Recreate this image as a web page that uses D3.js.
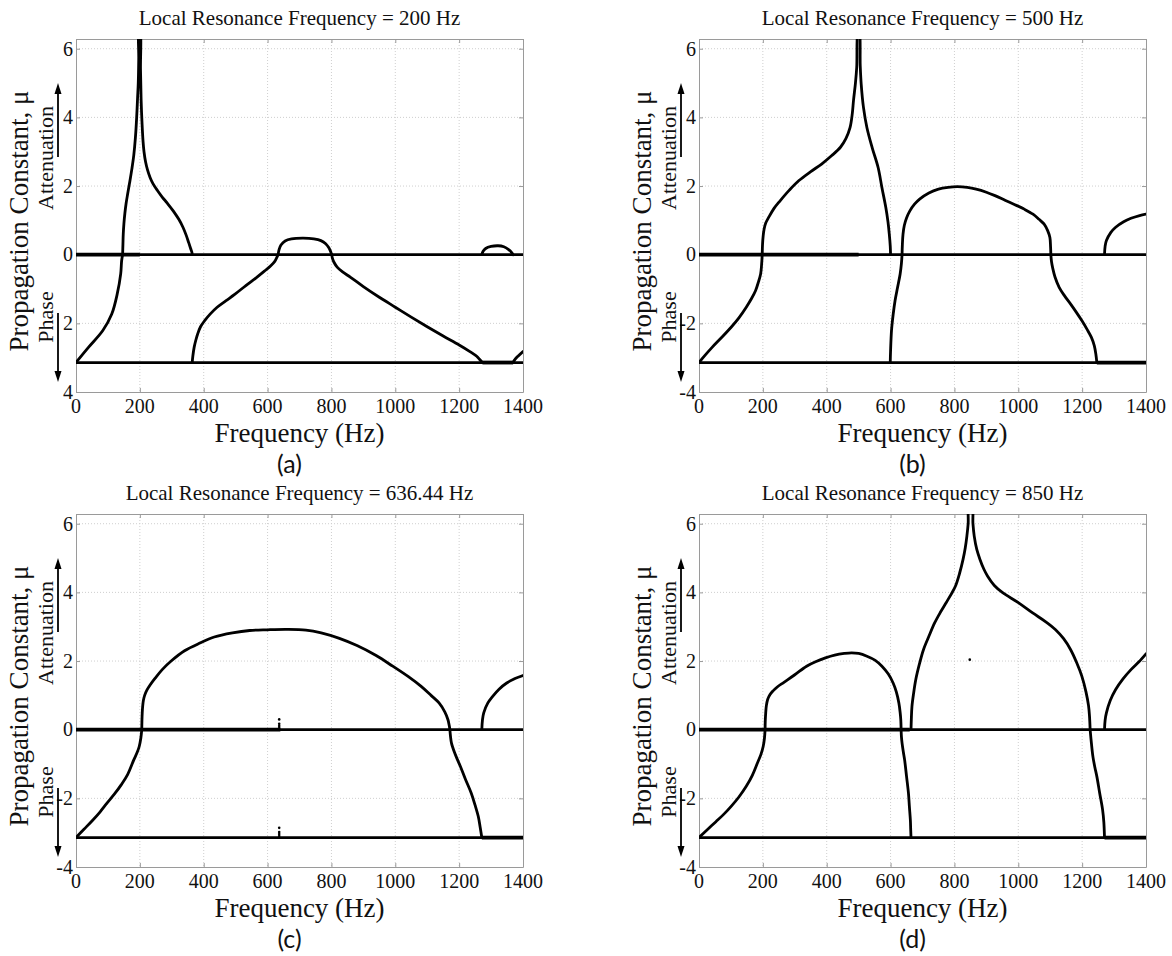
<!DOCTYPE html>
<html><head><meta charset="utf-8">
<script src="https://cdn.jsdelivr.net/npm/d3@7"></script>
<style>
body{margin:0;background:#fff}
svg text{font-family:"Liberation Serif","Times New Roman",serif;fill:#111}
</style>
</head><body>
<svg id="chart" width="1172" height="956"></svg>
<script>
const PI = Math.PI;
const xTicks = [0,200,400,600,800,1000,1200,1400];
const yTicks = [6,4,2,0,-2,-4];
const yTickLabelsA = ["6","4","2","0","2","4"];
const yTickLabelsB = ["6","4","2","0","-2","-4"];
const titleTexts = ["Local Resonance Frequency = 200 Hz","Local Resonance Frequency = 500 Hz",
                    "Local Resonance Frequency = 636.44 Hz","Local Resonance Frequency = 850 Hz"];
const panelLetters = ["(a)","(b)","(c)","(d)"];
const xLabel = "Frequency (Hz)";
const yLabel = "Propagation Constant, \u03bc";
const attLabel = "Attenuation";
const phaseLabel = "Phase";

// common branches
const zeroLine = [[0,0],[1400,0]];
const piLine = [[0,-PI],[1400,-PI]];

// (a) f_r = 200 Hz
const aPhase1 = [[0,-3.14],[39,-2.7],[84,-2.21],[112,-1.73],[129,-1.15],[140,-0.56],[143,-0.17],[146,0]];
const aAtten1 = [[146,0],[147,0.3],[148,0.6],[150,0.9],[153,1.2],[157,1.5],[162,1.78],[168,2.1],[175,2.5],[181,2.9],[186,3.4],[190,4.0],[193,4.6],[195,5.0],[196.5,5.7],[197.5,6.6],
                 [200.5,6.6],[202,5.4],[204,4.5],[207,3.8],[210,3.3],[213,3.0],[218,2.7],[224,2.47],[232,2.25],[241,2.07],[255,1.87],[270,1.68],[286,1.5],[305,1.27],[322,1.03],[335,0.8],[345,0.57],[353,0.35],[359,0.18],[363,0.07],[364,0]];
const aPhase2 = [[364,-3.14],[366,-2.95],[370,-2.7],[375,-2.5],[381,-2.31],[390,-2.1],[403,-1.92],[420,-1.73],[442,-1.53],[470,-1.34],[498,-1.15],[532,-0.9],[566,-0.66],[590,-0.48],[610,-0.32],[622,-0.2],[628,-0.1],[633,0]];
const aAtten2 = [[633,0],[636,0.15],[642,0.28],[655,0.4],[675,0.46],[711,0.48],[745,0.46],[767,0.41],[782,0.32],[792,0.2],[798,0.08],[801,0]];
const aPhase3 = [[801,0],[803,-0.1],[808,-0.22],[818,-0.36],[835,-0.5],[860,-0.66],[900,-0.93],[950,-1.24],[1000,-1.53],[1050,-1.82],[1100,-2.1],[1150,-2.37],[1200,-2.63],[1235,-2.83],[1255,-2.96],[1265,-3.06],[1273,-3.14]];
const aAtten3 = [[1271,0],[1275,0.1],[1283,0.18],[1300,0.24],[1322,0.26],[1340,0.23],[1355,0.15],[1364,0.07],[1369,0]];
const aPhase4 = [[1369,-3.14],[1375,-3.05],[1385,-2.95],[1400,-2.82]];
const aOverlap = [[0,200,0],[1273,1369,-PI]];
const aStray = [];

// (b) f_r = 500 Hz
const bPhase1 = [[0,-3.14],[20,-2.92],[41,-2.7],[70,-2.42],[100,-2.12],[125,-1.84],[148,-1.53],[165,-1.27],[177,-1.05],[186,-0.8],[193,-0.56],[196,-0.3],[198,0]];
const bAtten1 = [[198,0],[199,0.3],[201,0.55],[204,0.75],[209,0.92],[219,1.1],[235,1.35],[254,1.57],[283,1.88],[313,2.16],[350,2.42],[384,2.64],[415,2.88],[443,3.13],[460,3.38],[473,3.7],[480,4.1],[484,4.5],[490,5.0],[494,5.46],[498.5,6.6],
                 [501.5,6.6],[505,5.5],[508,4.97],[515,4.3],[526,3.7],[543,3.1],[561,2.54],[573,1.95],[585,1.38],[592,0.95],[596,0.6],[599,0.25],[600,0]];
const bPhase2 = [[599,-3.14],[600,-2.8],[603,-2.2],[608,-1.75],[614,-1.34],[622,-0.95],[630,-0.56],[634,-0.25],[636,0]];
const bAtten2 = [[636,0],[637,0.3],[639,0.6],[643,0.85],[650,1.07],[660,1.27],[675,1.47],[691,1.62],[720,1.8],[750,1.91],[780,1.96],[809,1.98],[840,1.96],[868,1.91],[900,1.82],[927,1.72],[960,1.58],[986,1.47],[1020,1.32],[1046,1.18],[1065,1.03],[1081,0.89],[1092,0.7],[1099,0.5],[1101,0.25],[1102,0]];
const bPhase3 = [[1102,0],[1104,-0.2],[1108,-0.4],[1115,-0.65],[1128,-0.95],[1145,-1.2],[1164,-1.44],[1182,-1.68],[1199,-1.92],[1215,-2.17],[1229,-2.41],[1238,-2.65],[1243,-2.9],[1246,-3.14]];
const bAtten3 = [[1270,0],[1272,0.25],[1276,0.41],[1290,0.65],[1305,0.8],[1330,0.96],[1353,1.06],[1380,1.14],[1400,1.18]];
const bOverlap = [[0,500,0],[1246,1400,-PI]];
const bStray = [];

// (c) f_r = 636.44 Hz
const cPhase1 = [[0,-3.14],[25,-2.9],[53,-2.63],[75,-2.4],[97,-2.14],[120,-1.88],[142,-1.6],[162,-1.3],[181,-0.88],[192,-0.65],[198,-0.49],[203,-0.25],[206,0]];
const cAtten1 = [[206,0],[206.5,0.25],[207.5,0.5],[209,0.7],[211,0.85],[215,1.0],[222,1.15],[232,1.3],[248,1.5],[270,1.75],[298,2.0],[340,2.3],[390,2.53],[433,2.7],[490,2.82],[544,2.89],[600,2.91],[660,2.92],[720,2.9],[768,2.82],[825,2.66],[880,2.45],[940,2.16],[992,1.85],[1040,1.55],[1081,1.26],[1112,1.0],[1137,0.78],[1155,0.52],[1165,0.29],[1169,0.12],[1171,0]];
const cPhase2 = [[1171,0],[1173,-0.2],[1176,-0.39],[1185,-0.65],[1195,-0.88],[1204,-1.07],[1220,-1.45],[1238,-1.85],[1250,-2.2],[1260,-2.53],[1266,-2.85],[1271,-3.14]];
const cAtten2 = [[1271,0],[1273,0.28],[1277,0.49],[1290,0.78],[1305,0.97],[1325,1.18],[1349,1.36],[1375,1.49],[1400,1.58]];
const cOverlap = [[0,640,0],[1271,1400,-PI]];
const cStray = [[636.44,0.3],[636.44,0.17],[636.44,0.11],[636.44,0.05],[636.44,-2.86],[636.44,-2.98],[636.44,-3.04],[636.44,-3.1]];

// (d) f_r = 850 Hz
const dPhase1 = [[0,-3.14],[25,-2.92],[53,-2.68],[78,-2.46],[100,-2.24],[125,-1.96],[148,-1.65],[167,-1.33],[183,-0.97],[194,-0.72],[201,-0.49],[205,-0.25],[207,0]];
const dAtten1 = [[207,0],[207.5,0.25],[209,0.5],[211,0.7],[215,0.88],[222,1.02],[232,1.13],[246,1.25],[266,1.38],[300,1.6],[337,1.85],[365,1.98],[396,2.09],[425,2.17],[455,2.22],[478,2.24],[500,2.22],[526,2.14],[552,2.02],[573,1.85],[593,1.62],[608,1.36],[618,1.1],[626,0.78],[630,0.5],[632,0.29],[633,0]];
const dPhase2 = [[633,0],[634,-0.2],[636,-0.39],[640,-0.65],[644,-0.88],[650,-1.36],[656,-1.85],[659,-2.25],[662,-2.63],[663,-2.9],[664,-3.14]];
const dAtten2 = [[664,0],[665,0.3],[667,0.68],[672,1.05],[679,1.46],[690,1.9],[703,2.33],[720,2.72],[738,3.11],[756,3.42],[774,3.7],[790,3.95],[803,4.18],[816,4.55],[827,4.96],[834,5.3],[839,5.64],[843,6.0],[846,6.6],
                 [855,6.6],[858,6.0],[862,5.64],[870,5.25],[880,4.96],[892,4.68],[904,4.47],[925,4.2],[951,3.99],[1000,3.7],[1045,3.4],[1085,3.15],[1116,2.92],[1142,2.65],[1164,2.33],[1183,1.95],[1199,1.56],[1212,1.1],[1220,0.7],[1223,0.4],[1225,0]];
const dPhase3 = [[1225,0],[1227,-0.2],[1229,-0.39],[1234,-0.8],[1240,-1.1],[1246,-1.36],[1255,-1.85],[1264,-2.33],[1268,-2.7],[1270,-3.14]];
const dAtten3 = [[1270,0],[1272,0.28],[1276,0.49],[1288,0.85],[1305,1.17],[1328,1.48],[1353,1.75],[1378,1.98],[1400,2.21]];
const dOverlap = [[0,660,0],[1270,1400,-PI]];
const dStray = [[848,2.04]];

const panels = [
  {title:titleTexts[0], letter:panelLetters[0], yLabels:yTickLabelsA, series:[zeroLine,piLine,aPhase1,aAtten1,aPhase2,aAtten2,aPhase3,aAtten3,aPhase4], overlap:aOverlap, stray:aStray},
  {title:titleTexts[1], letter:panelLetters[1], yLabels:yTickLabelsB, series:[zeroLine,piLine,bPhase1,bAtten1,bPhase2,bAtten2,bPhase3,bAtten3], overlap:bOverlap, stray:bStray},
  {title:titleTexts[2], letter:panelLetters[2], yLabels:yTickLabelsB, series:[zeroLine,piLine,cPhase1,cAtten1,cPhase2,cAtten2], overlap:cOverlap, stray:cStray},
  {title:titleTexts[3], letter:panelLetters[3], yLabels:yTickLabelsB, series:[zeroLine,piLine,dPhase1,dAtten1,dPhase2,dAtten2,dPhase3,dAtten3], overlap:dOverlap, stray:dStray}
];

const svg = d3.select("#chart");
const lefts = [76, 699], tops = [39, 514];
const W = 447, H = 353;

panels.forEach((p, i) => {
  const L = lefts[i % 2], T = tops[Math.floor(i / 2)];
  const g = svg.append("g").attr("transform", `translate(${L},${T})`);
  const x = d3.scaleLinear().domain([0, 1400]).range([0, W]);
  const y = d3.scaleLinear().domain([-4, 2 * PI]).range([H, 0]);

  // grid
  g.append("g").selectAll("line").data(xTicks.slice(1, -1)).join("line")
    .attr("x1", d => x(d)).attr("x2", d => x(d)).attr("y1", 0).attr("y2", H)
    .attr("stroke", "#cfcfcf").attr("stroke-width", 1).attr("stroke-dasharray", "1,2");
  g.append("g").selectAll("line").data(yTicks.slice(0, -1)).join("line")
    .attr("x1", 0).attr("x2", W).attr("y1", d => y(d)).attr("y2", d => y(d))
    .attr("stroke", "#cfcfcf").attr("stroke-width", 1).attr("stroke-dasharray", "1,2");

  // axes with inward ticks on all sides
  const axStyle = sel => { sel.select(".domain").attr("stroke", "#9a9a9a"); sel.selectAll(".tick line").attr("stroke", "#9a9a9a"); sel.selectAll("text").remove(); };
  g.append("g").attr("transform", `translate(0,${H})`).call(d3.axisBottom(x).tickValues(xTicks).tickSizeInner(-4).tickSizeOuter(0)).call(axStyle);
  g.append("g").call(d3.axisTop(x).tickValues(xTicks).tickSizeInner(-4).tickSizeOuter(0)).call(axStyle);
  g.append("g").call(d3.axisLeft(y).tickValues(yTicks).tickSizeInner(-4).tickSizeOuter(0)).call(axStyle);
  g.append("g").attr("transform", `translate(${W},0)`).call(d3.axisRight(y).tickValues(yTicks).tickSizeInner(-4).tickSizeOuter(0)).call(axStyle);

  // tick labels
  g.append("g").selectAll("text").data(xTicks).join("text")
    .attr("x", d => x(d)).attr("y", H + 21).attr("text-anchor", "middle")
    .attr("font-size", 20).text(d => d);
  g.append("g").selectAll("text").data(yTicks).join("text")
    .attr("x", -3).attr("y", d => y(d)).attr("dy", "0.34em").attr("text-anchor", "end")
    .attr("font-size", 20).text((d, k) => p.yLabels[k]);

  // data
  const clipId = "clip" + i;
  g.append("clipPath").attr("id", clipId).append("rect").attr("x", 0).attr("y", 0).attr("width", W).attr("height", H);
  const plot = g.append("g").attr("clip-path", `url(#${clipId})`);
  const line = d3.line().x(d => x(d[0])).y(d => y(d[1])).curve(d3.curveCatmullRom.alpha(0.5));
  plot.selectAll("path.s").data(p.series).join("path").attr("class", "s")
    .attr("d", line).attr("fill", "none").attr("stroke", "#000").attr("stroke-width", 2.8)
    .attr("stroke-linejoin", "round").attr("stroke-linecap", "round");
  plot.selectAll("line.o").data(p.overlap).join("line").attr("class", "o")
    .attr("x1", d => x(d[0])).attr("x2", d => x(d[1])).attr("y1", d => y(d[2])).attr("y2", d => y(d[2]))
    .attr("stroke", "#000").attr("stroke-width", 3.8);
  plot.selectAll("circle").data(p.stray).join("circle")
    .attr("cx", d => x(d[0])).attr("cy", d => y(d[1])).attr("r", 1.3).attr("fill", "#000");

  // title
  g.append("text").attr("x", W / 2).attr("y", -14).attr("text-anchor", "middle")
    .attr("font-size", 21).text(p.title);
  // x label
  g.append("text").attr("x", W / 2).attr("y", H + 50).attr("text-anchor", "middle")
    .attr("font-size", 27).text(xLabel);
  // panel letter
  g.append("text").attr("x", W / 2 - 10).attr("y", H + 81).attr("text-anchor", "middle")
    .style("font-family", "Lato, 'Open Sans', sans-serif").attr("font-size", 25).text(p.letter);
  // y label
  g.append("text").attr("transform", `translate(-48,182) rotate(-90)`).attr("text-anchor", "middle")
    .attr("font-size", 27).text(yLabel);
  g.append("text").attr("transform", `translate(-23,119) rotate(-90)`).attr("text-anchor", "middle")
    .attr("font-size", 22).text(attLabel);
  g.append("text").attr("transform", `translate(-23,278) rotate(-90)`).attr("text-anchor", "middle")
    .attr("font-size", 22).text(phaseLabel);
  // arrows
  const arrow = (ax, y0, yTip) => {
    const dir = yTip < y0 ? 1 : -1;
    g.append("line").attr("x1", ax).attr("x2", ax).attr("y1", y0).attr("y2", yTip + dir * 8)
      .attr("stroke", "#000").attr("stroke-width", 1.8);
    g.append("path").attr("d", `M${ax},${yTip} L${ax - 3.5},${yTip + dir * 11} L${ax + 3.5},${yTip + dir * 11} Z`).attr("fill", "#000");
  };
  arrow(-18, 118, 44);
  arrow(-18, 274, 343);
});
</script>
</body></html>
